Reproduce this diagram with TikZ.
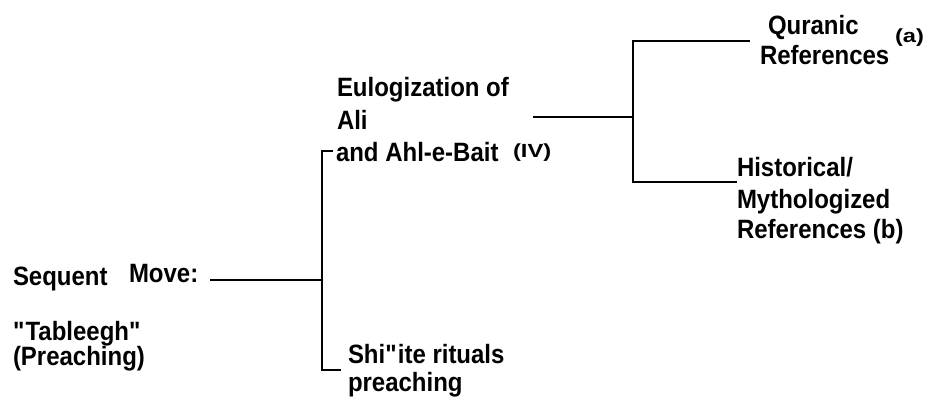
\documentclass[tikz,border=0pt]{standalone}
\usepackage{fontspec}
\setmainfont{Liberation Sans}[FakeStretch=0.905]
\newfontfamily\supfont{Liberation Sans}[FakeStretch=1.25]
\begin{document}
\begin{tikzpicture}[x=1pt,y=-1pt,
  lbl/.style={anchor=base west,inner sep=0pt,outer sep=0pt,font=\fontsize{26.5}{32}\selectfont\bfseries},
  sup/.style={anchor=base west,inner sep=0pt,outer sep=0pt,font=\supfont\fontsize{19}{22}\selectfont\bfseries},
  conn/.style={draw=black,line width=1.3pt}]
\useasboundingbox (0,0) rectangle (930,401);
% left texts
\node[lbl] (seq) at (13,285) {Sequent};
\node[lbl] (move) at (129,283) {Move:};
\node[lbl] (tab) at (13,340) {\textquotedbl Tableegh\textquotedbl};
\node[lbl] (prea) at (13,365) {(Preaching)};
% middle texts
\node[lbl] (eu1) at (337,97) {Eulogization of};
\node[lbl] (eu2) at (337,130) {Ali};
\node[lbl] (eu3) at (336,162) {and Ahl-e-Bait};
\node[sup] (iv) at (513,158) {(IV)};
\node[lbl] (sh1) at (348,363) {Shi\textquotedbl ite rituals};
\node[lbl] (sh2) at (348,391) {preaching};
% right texts
\node[lbl] (q1) at (768,35) {Quranic};
\node[lbl] (q2) at (760,65) {References};
\node[sup] (qa) at (895,43) {(a)};
\node[lbl] (h1) at (737,177) {Historical/};
\node[lbl] (h2) at (737,208) {Mythologized};
\node[lbl] (h3) at (737,238) {References (b)};
% junctions
\coordinate (m0) at (210,280);
\coordinate (jm) at (322,280);
\coordinate (jt) at (322,151);
\coordinate (jb) at (322,370);
\coordinate (et) at (333,151);
\coordinate (eb) at (341,370);
\coordinate (e0) at (533,117);
\coordinate (jr) at (633,117);
\coordinate (jrt) at (633,41);
\coordinate (jrb) at (633,182);
\coordinate (qt) at (750,41);
\coordinate (hb) at (737,182);
\draw[conn] (m0) -- (jm);
\draw[conn] (et) -- (jt) -- (jb) -- (eb);
\draw[conn] (e0) -- (jr);
\draw[conn] (qt) -- (jrt) -- (jrb) -- (hb);
\end{tikzpicture}
\end{document}
